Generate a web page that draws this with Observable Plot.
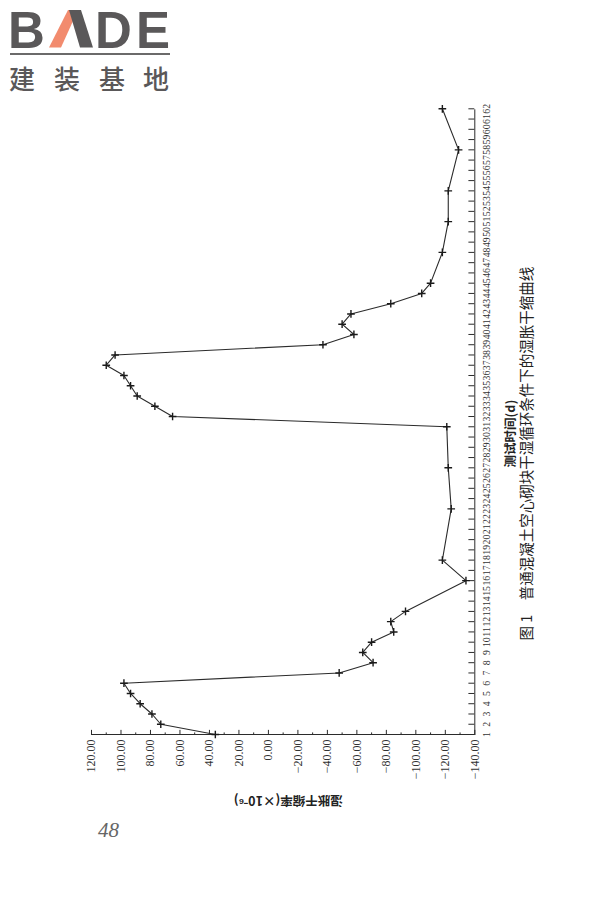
<!DOCTYPE html>
<html>
<head>
<meta charset="utf-8">
<script src="https://cdn.jsdelivr.net/npm/d3@7"></script>
<script src="https://cdn.jsdelivr.net/npm/@observablehq/plot@0.6"></script>
<style>
  html, body { margin: 0; padding: 0; width: 600px; height: 900px; overflow: hidden; background: #fff; }
  #rot { position: absolute; left: 0; top: 0; width: 900px; height: 600px;
         transform-origin: 0 0; transform: translate(0px, 900px) rotate(-90deg); }
  #logo { position: absolute; left: 0; top: 0; width: 180px; height: 100px; z-index: 5; }
  .L { position: absolute; top: 1px; font-family: 'Liberation Sans', Arial, sans-serif; font-weight: bold;
       font-size: 51px; line-height: normal; color: #5a5859; }
  #bar { position: absolute; left: 10px; top: 53px; width: 160px; height: 2px; background: #6b6a6a; }
  .cn { position: absolute; top: 59px; font-family: 'Noto Sans CJK SC', sans-serif; font-weight: 500;
        font-size: 26px; line-height: normal; color: #5a5859; }
  #page { position: absolute; left: 98px; top: 818px; font-family: 'Liberation Serif', serif;
          font-style: italic; font-size: 21px; color: #666; }
</style>
</head>
<body>
<div id="logo">
  <span class="L" style="left:8px">B</span>
  <svg style="position:absolute;left:0;top:0" width="180" height="60">
    <polygon points="49,47.5 61,47.5 78,10 68,10" fill="#f28b6e"/>
    <polygon points="69,10 81,10 93,47.5 80,47.5" fill="#5a5859"/>
  </svg>
  <span class="L" style="left:95px">D</span>
  <span class="L" style="left:136px">E</span>
  <div id="bar"></div>
  <span class="cn" style="left:9px">建</span>
  <span class="cn" style="left:54px">装</span>
  <span class="cn" style="left:99px">基</span>
  <span class="cn" style="left:143px">地</span>
</div>
<div id="rot"></div>
<div id="page">48</div>
<script>
// ---- data ----
const days = [1,2,3,4,5,6,7,8,9,10,11,12,13,16,18,23,27,31,32,33,34,35,36,37,38,39,40,41,42,43,44,45,48,51,54,58,62];
const strain = [36,73,79,87,93.5,98,-48,-71,-64,-70,-85,-83,-93,-134,-118,-124,-122,-121,65,77,89,93.5,98,110,104,-37,-58,-50,-56,-83,-104,-110,-118,-122,-122,-129,-118];
const dayTicks = [1,2,3,4,5,6,7,8,9,10,11,12,13,14,15,16,17,18,19,20,21,22,23,24,25,26,27,28,29,30,31,32,33,34,35,36,37,38,39,40,41,42,43,44,45,46,47,48,49,50,51,52,53,54,55,56,57,58,59,60,61,62];
const valueTicks = [120,100,80,60,40,20,0,-20,-40,-60,-80,-100,-120,-140];
const minorTicks = [110,90,70,50,30,10,-10,-30,-50,-70,-90,-110,-130];
const xTitle = "测试时间(d)";
const yTitle = "湿胀干缩率(×10⁻⁶)";
const caption = "图 1　普通混凝土空心砌块干湿循环条件下的湿胀干缩曲线";

const data = days.map((d, i) => ({day: d, v: strain[i]}));
const fmt = d => d.toFixed(2).replace("-", "−");
const ink = "#2b2b2b";

const chart = Plot.plot({
  width: 900,
  height: 600,
  marginLeft: 165,
  marginRight: 109.3,
  marginTop: 91,
  marginBottom: 125.7,
  x: {domain: [1, 62], axis: null},
  y: {domain: [-140, 120], axis: null},
  style: {background: "transparent", color: "#333", fontFamily: "'Liberation Serif', 'Noto Sans CJK SC', serif"},
  marks: [
    Plot.ruleX([1], {stroke: ink, strokeWidth: 1}),
    Plot.ruleY([-140], {stroke: ink, strokeWidth: 1}),
    Plot.ruleX(dayTicks, {x: d => d, y1: -140, y2: -136, stroke: ink}),
    Plot.ruleY(valueTicks, {y: d => d, x1: 1, x2: 1.5, stroke: ink}),
    Plot.ruleY(minorTicks, {y: d => d, x1: 1, x2: 1.25, stroke: ink}),
    Plot.axisY(valueTicks, {anchor: "left", tickSize: 0, tickPadding: 5, tickFormat: fmt, fontSize: 12, label: null}),
    Plot.axisX(dayTicks, {anchor: "bottom", tickSize: 0, tickPadding: 8, fontSize: 9.8, label: null}),
    Plot.line(data, {x: "day", y: "v", stroke: ink, strokeWidth: 1.1}),
    Plot.dot(data, {x: "day", y: "v", symbol: "plus", r: 2.6, stroke: "#1a1a1a", strokeWidth: 1.4}),
    Plot.text([yTitle], {frameAnchor: "left", textAnchor: "middle", lineAnchor: "middle", dx: -65, dy: 5, rotate: -90,
      fontSize: 12.5, fontWeight: "bold", fontFamily: "'Noto Sans CJK SC', sans-serif", fill: "#222"}),
    Plot.text([xTitle], {frameAnchor: "bottom", textAnchor: "middle", lineAnchor: "middle", dx: -12, dy: 35.7,
      fontSize: 12.5, fontWeight: "bold", fontFamily: "'Noto Sans CJK SC', sans-serif", fill: "#222"}),
    Plot.text([caption], {frameAnchor: "bottom", textAnchor: "middle", lineAnchor: "middle", dx: -32, dy: 52.7,
      fontSize: 14.5, fontFamily: "'Noto Sans CJK SC', sans-serif", fill: "#222"})
  ]
});
document.getElementById("rot").appendChild(chart);
</script>
</body>
</html>
